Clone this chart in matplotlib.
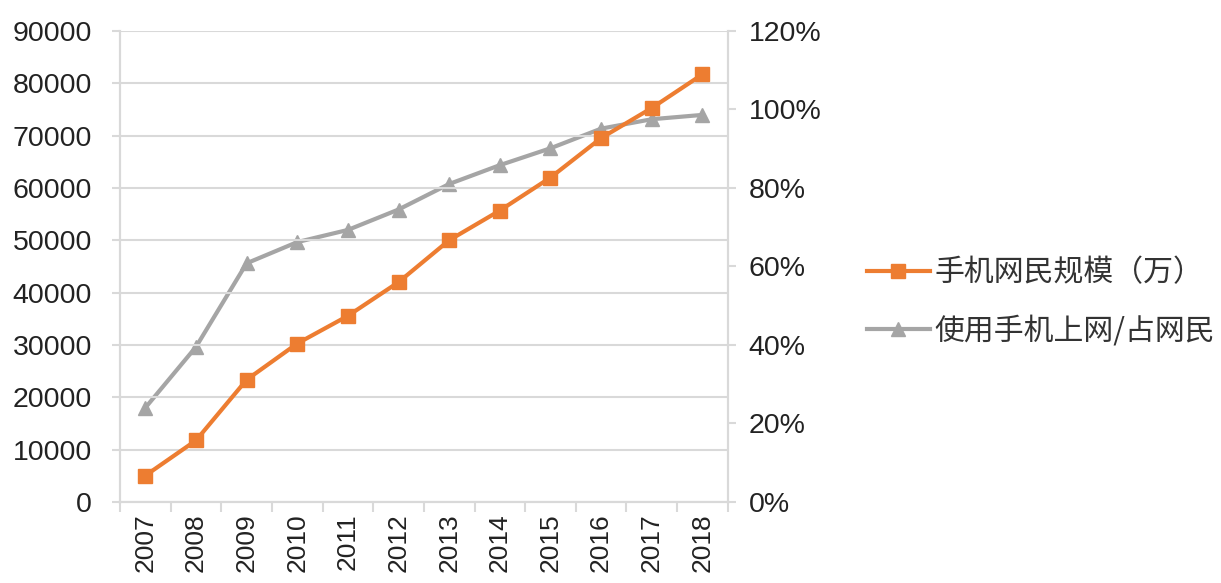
import matplotlib.pyplot as plt
import numpy as np

plt.rcParams['font.family'] = ['Liberation Sans', 'Noto Sans CJK SC', 'DejaVu Sans']

years = ['2007', '2008', '2009', '2010', '2011', '2012',
         '2013', '2014', '2015', '2016', '2017', '2018']
mobile_users = [5040, 11760, 23344, 30274, 35558, 41997,
                50006, 55678, 61981, 69531, 75265, 81698]
mobile_share = [24.0, 39.5, 60.8, 66.2, 69.3, 74.5,
                81.0, 85.8, 90.1, 95.1, 97.5, 98.6]

orange = '#ED7D31'
grey = '#A5A5A5'
axis_col = '#D9D9D9'

fig = plt.figure(figsize=(12.21, 5.83), dpi=100)
ax = fig.add_axes([0.0983, 0.139, 0.4977, 0.808])
ax2 = ax.twinx()

x = np.arange(len(years))

# grey line on the secondary axis, drawn underneath
ax2.plot(x, mobile_share, color=grey, lw=3, marker='^', ms=10,
         label='使用手机上网/占网民')
ax.plot(x, mobile_users, color=orange, lw=3, marker='s', ms=10,
        label='手机网民规模（万）')
ax.set_zorder(ax2.get_zorder() + 1)
ax.patch.set_visible(False)

ax.set_xlim(-0.5, len(years) - 0.5)
ax.set_ylim(0, 90000)
ax.set_yticks(range(0, 90001, 10000))
ax2.set_ylim(0, 120)
ax2.set_yticks(range(0, 121, 20))
ax2.set_yticklabels([f'{v}%' for v in range(0, 121, 20)])

ax.set_xticks(x)
ax.set_xticklabels(years, rotation=90)
ax.set_xticks(np.arange(-0.5, len(years), 1), minor=True)
ax.tick_params(axis='x', which='major', length=0, pad=8, labelsize=19)
ax.tick_params(axis='x', which='minor', length=7, color=axis_col, width=1.5)
ax.tick_params(axis='y', length=6, color=axis_col, width=1.5, pad=14, labelsize=20.5)
ax2.tick_params(axis='y', length=6, color=axis_col, width=1.5, pad=9, labelsize=20.5)

for a in (ax, ax2):
    a.tick_params(labelcolor='#222222')
    for s in a.spines.values():
        s.set_color(axis_col)
        s.set_linewidth(1.5)
    a.spines['top'].set_visible(False)

ax.grid(axis='y', color=axis_col, lw=1.5)
ax.set_axisbelow(True)

h1, l1 = ax.get_legend_handles_labels()
h2, l2 = ax2.get_legend_handles_labels()
fig.legend(h1 + h2, l1 + l2, loc='center left', bbox_to_anchor=(0.688, 0.482),
           frameon=False, handlelength=2.1, handletextpad=0.15, labelspacing=0.9,
           prop={'family': ['Noto Sans CJK SC'], 'size': 21.5}, labelcolor='#333333')

plt.savefig('out.png', dpi=100)
